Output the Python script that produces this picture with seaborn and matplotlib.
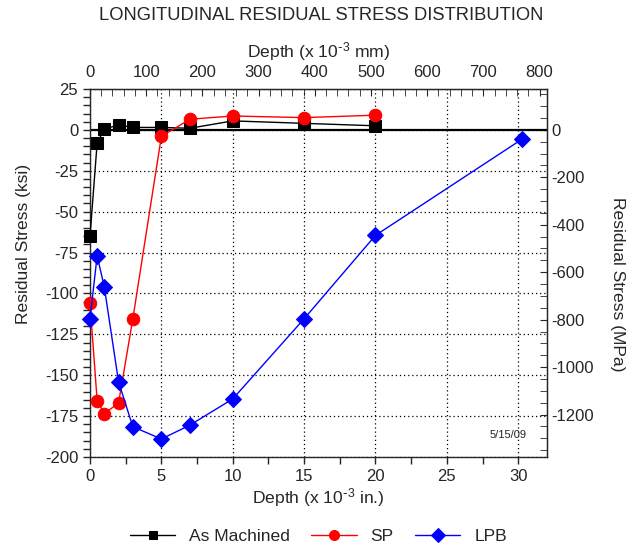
import numpy as np
import pandas as pd
import seaborn as sns
import matplotlib.pyplot as plt
from matplotlib.ticker import MultipleLocator

# depth in 10^-3 in., stress in ksi
am_depth = [0, 0.5, 1, 2, 3, 5, 7, 10, 15, 20]
am_stress = [-65, -8, 0.5, 3, 1.5, 1.5, 1, 5.5, 4, 2.5]

sp_depth = [0, 0.5, 1, 2, 3, 5, 7, 10, 15, 20]
sp_stress = [-106, -165.5, -173.5, -167, -115.5, -4, 6.5, 8.5, 7.5, 9]

lpb_depth = [0, 0.5, 1, 2, 3, 5, 7, 10, 15, 20, 30.3]
lpb_stress = [-115.5, -77, -96, -154, -181.5, -189, -180.5, -164.5, -115.5, -64.5, -5.5]

sns.set_style('ticks')
plt.rcParams['font.family'] = ['Liberation Sans', 'DejaVu Sans']
plt.rcParams['mathtext.default'] = 'regular'
plt.rcParams['axes.unicode_minus'] = False

fig = plt.figure(figsize=(6.42, 5.46), dpi=100)
ax = fig.add_axes([0.1402, 0.163, 0.7114, 0.674])

ax.axhline(0, color='black', lw=1.6, zorder=1)

sns.lineplot(x=am_depth, y=am_stress, ax=ax, color='black', marker='s', markersize=8,
             markeredgecolor='black', lw=1, label='As Machined', zorder=3, clip_on=False)
sns.lineplot(x=sp_depth, y=sp_stress, ax=ax, color='red', marker='o', markersize=9,
             markeredgecolor='red', lw=1, label='SP', zorder=4, clip_on=False)
sns.lineplot(x=lpb_depth, y=lpb_stress, ax=ax, color='blue', marker='D', markersize=8.5,
             markeredgecolor='blue', lw=1, label='LPB', zorder=5, clip_on=False)

ax.set_xlim(0, 32)
ax.set_ylim(-200, 25)
ax.xaxis.set_major_locator(MultipleLocator(5))
ax.xaxis.set_minor_locator(MultipleLocator(2.5))
ax.yaxis.set_major_locator(MultipleLocator(25))
ax.yaxis.set_minor_locator(MultipleLocator(5))
ax.grid(True, which='major', color='black', ls=(0, (1, 2.3)), lw=0.9)
ax.tick_params(which='both', direction='out', labelsize=12, width=1, length=5)
for s in ax.spines.values():
    s.set_linewidth(1)

ax.set_xlabel('Depth (x 10$^{\\text{-}3}$ in.)', fontsize=12.6, labelpad=2)
ax.set_ylabel('Residual Stress (ksi)', fontsize=12.6, labelpad=10)
ax.yaxis.label.set_y(0.58)

top = ax.secondary_xaxis('top', functions=(lambda x: x * 25.4, lambda x: x / 25.4))
top.xaxis.set_major_locator(MultipleLocator(100))
top.xaxis.set_minor_locator(MultipleLocator(20))
top.tick_params(which='both', direction='in', labelsize=12, length=5, pad=6.2)
top.set_xlabel('Depth (x 10$^{\\text{-}3}$ mm)', fontsize=12.6, labelpad=6)

right = ax.secondary_yaxis('right', functions=(lambda y: y * 6.895, lambda y: y / 6.895))
right.yaxis.set_major_locator(MultipleLocator(200))
right.yaxis.set_minor_locator(MultipleLocator(50))
right.tick_params(which='both', direction='in', labelsize=12, length=5)
right.set_ylabel('Residual Stress (MPa)', fontsize=12.6, rotation=270, labelpad=22)
right.yaxis.label.set_y(0.47)

ax.text(0.955, 0.06, '5/15/09', transform=ax.transAxes, fontsize=8, ha='right', va='center')

fig.text(0.5, 0.9725, 'LONGITUDINAL RESIDUAL STRESS DISTRIBUTION', fontsize=13.2,
         ha='center', va='center')

ax.legend(loc='center', bbox_to_anchor=(0.5, -0.217), ncol=3, frameon=False,
          fontsize=12.6, handlelength=2.6, markerscale=0.8, columnspacing=1.2,
          handletextpad=0.8)

fig.savefig('out.png', dpi=100)
